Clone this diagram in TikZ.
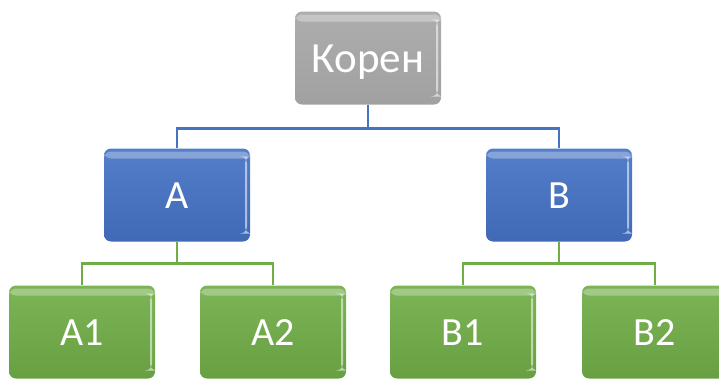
\documentclass[tikz,border=0pt]{standalone}
\usepackage{fontspec}
\setmainfont{Carlito}
\definecolor{rootgray}{rgb}{0.65,0.65,0.65}
\definecolor{midblue}{rgb}{0.27,0.45,0.77}
\definecolor{leafgreen}{rgb}{0.44,0.68,0.28}

\tikzset{
	box/.style={rounded corners=7pt, minimum width=146pt, minimum height=93pt,
		inner sep=0pt, text=white, text height=26pt, text depth=0pt,
		font=\fontsize{40}{48}\selectfont,
		path picture={
			\fill[white,opacity=0.3] ([yshift=-3pt]path picture bounding box.north west)
				rectangle ([yshift=-10pt]path picture bounding box.north east);
			\fill[white,opacity=0.55] ([xshift=-5pt,yshift=-8pt]path picture bounding box.north east)
				rectangle ([xshift=-3pt,yshift=8pt]path picture bounding box.south east);
		}},
	rootbox/.style={box, top color=rootgray!92!white, bottom color=rootgray!97!black,
		font=\fontsize{43}{50}\selectfont, text height=28pt},
	midbox/.style={box, top color=midblue!92!white, bottom color=midblue!92!black},
	leafbox/.style={box, top color=leafgreen!92!white, bottom color=leafgreen!92!black},
	blueline/.style={draw=midblue, line width=2.8pt},
	greenline/.style={draw=leafgreen, line width=2.8pt}
}

\begin{document}
\begin{tikzpicture}[x=1pt,y=-1pt]
	\useasboundingbox (0,0) rectangle (719,378);
	\clip (0,0) rectangle (719,378);
	% tree boxes
	\node[rootbox] (koren) at (368,58) {Корен};
	\node[midbox] (a) at (177,195) {A};
	\node[midbox] (b) at (559,195) {B};
	\node[leafbox] (a1) at (82,332) {A1};
	\node[leafbox] (a2) at (273,332) {A2};
	\node[leafbox] (b1) at (463,332) {B1};
	\node[leafbox] (b2) at (655,332) {B2};
	% branches
	\draw[blueline] (koren.south) -- ++(0,24) -| (a.north);
	\draw[blueline] (koren.south) -- ++(0,24) -| (b.north);
	\draw[greenline] (a.south) -- ++(0,22) -| (a1.north);
	\draw[greenline] (a.south) -- ++(0,22) -| (a2.north);
	\draw[greenline] (b.south) -- ++(0,22) -| (b1.north);
	\draw[greenline] (b.south) -- ++(0,22) -| (b2.north);
\end{tikzpicture}
\end{document}
